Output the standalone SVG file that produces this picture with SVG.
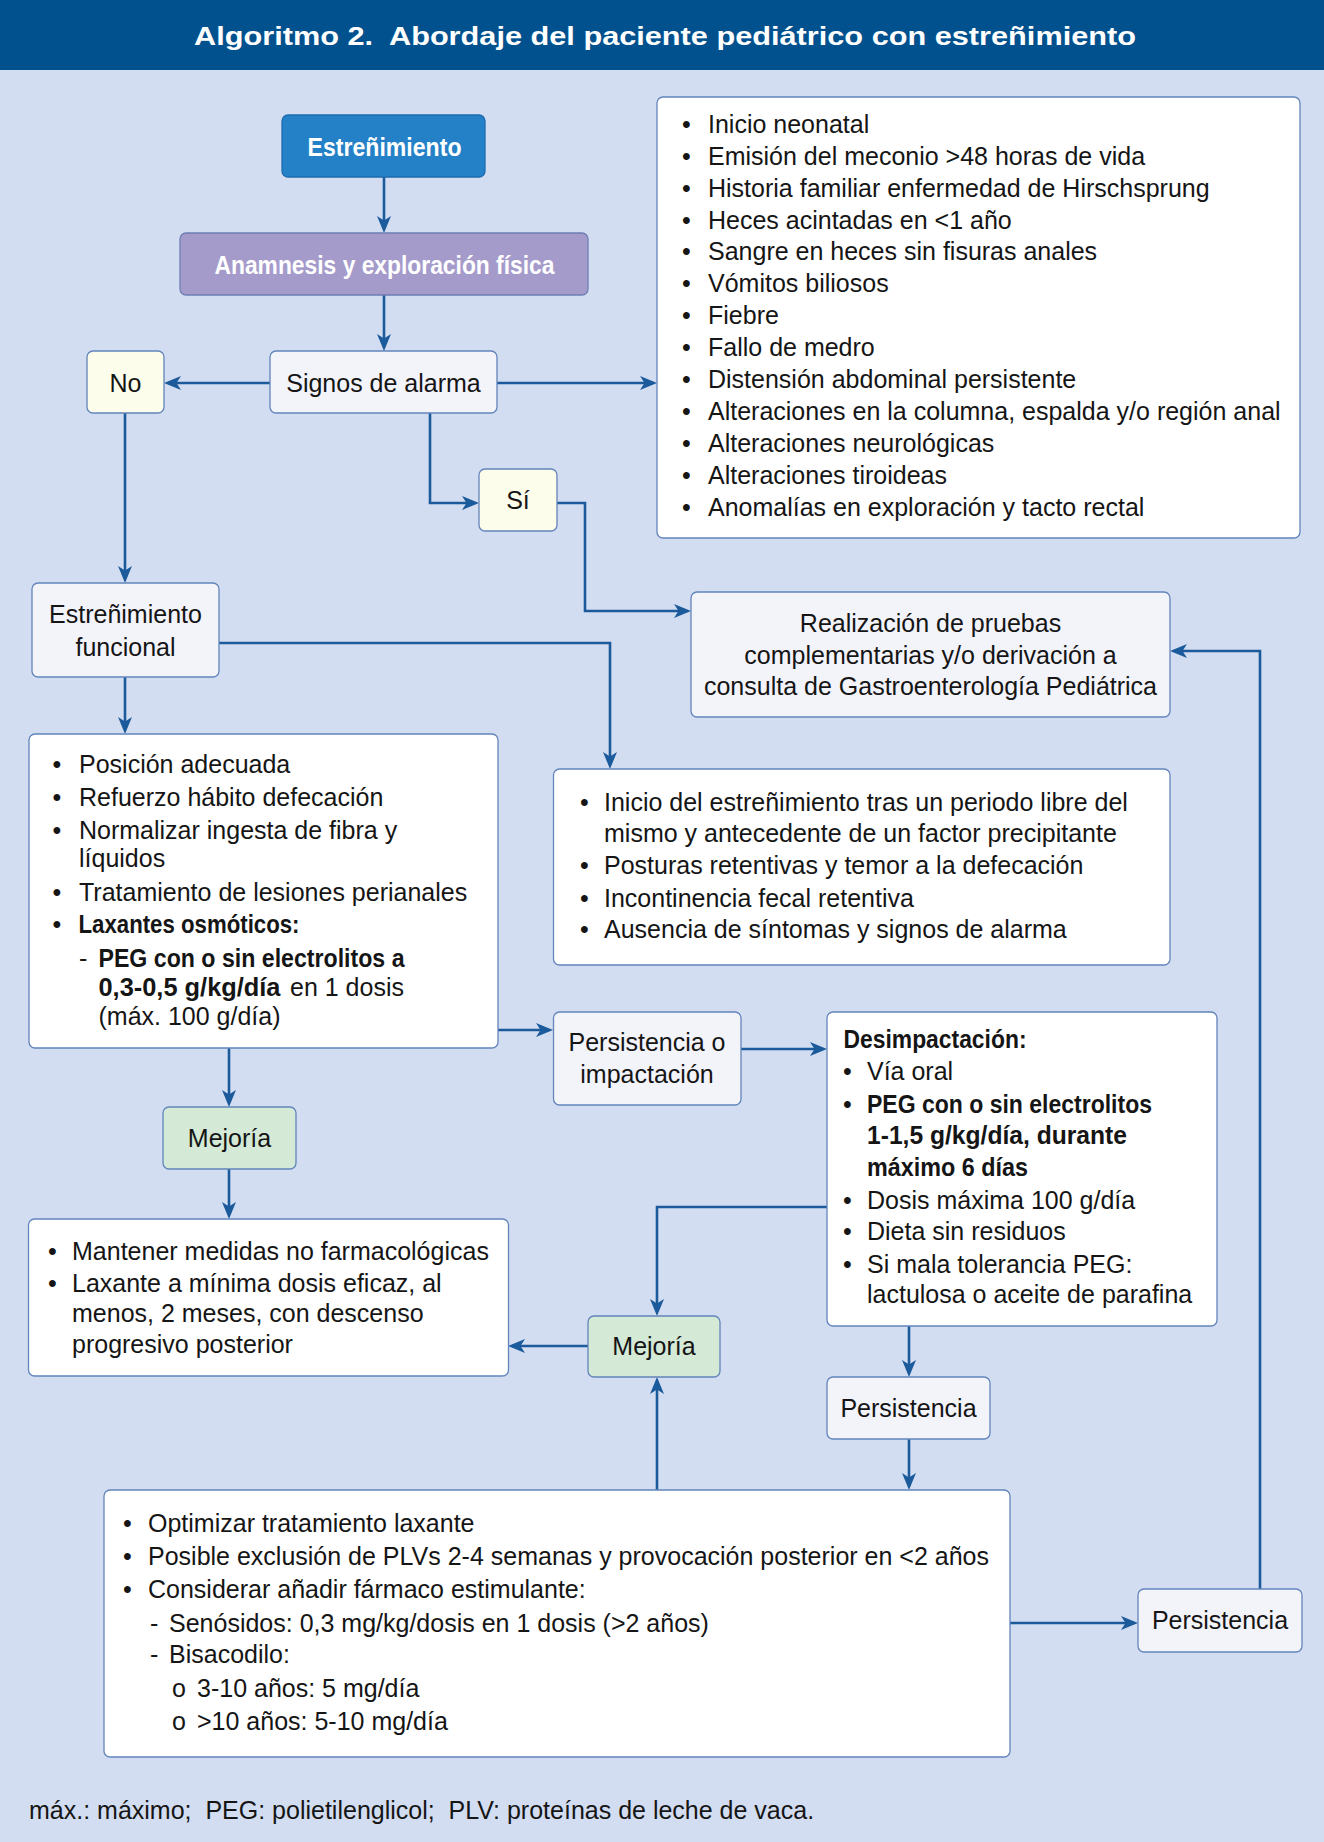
<svg xmlns="http://www.w3.org/2000/svg" width="1324" height="1842" viewBox="0 0 1324 1842">
<style>
.t{font-family:"Liberation Sans",Arial,sans-serif;font-size:25px;fill:#151515}
.b{font-weight:bold}
.c{text-anchor:middle}
.wt{fill:#ffffff}
.box{stroke:#6285BB;stroke-width:1.3}
.w{fill:#ffffff}
.l{fill:#F3F3FA}
.y{fill:#FDFDEB}
.g{fill:#D4EAD6}
.conn{fill:none;stroke:#1B5A9B;stroke-width:2.6}
</style>
<defs>
<marker id="ah" markerUnits="userSpaceOnUse" markerWidth="18" markerHeight="16" refX="13" refY="7" orient="auto">
<path d="M0,0 L17,7 L0,14 L4.5,7 z" fill="#1B5A9B"/>
</marker>
</defs>
<rect x="0" y="0" width="1324" height="1842" fill="#D3DDF1"/>
<g id="header">
<rect x="0" y="0" width="1324" height="70" fill="#01518E"/>
<text class="t b c wt" x="665" y="45" font-size="32" textLength="942" lengthAdjust="spacingAndGlyphs">Algoritmo 2.&#160; Abordaje del paciente pediátrico con estreñimiento</text>
</g>
<g id="connectors" class="conn" marker-end="url(#ah)">
<path d="M384,177 V229"/>
<path d="M384,295 V347"/>
<path d="M270,383 H168"/>
<path d="M497,383 H653"/>
<path d="M430,413 V503 H475"/>
<path d="M557,503 H585 V611 H687"/>
<path d="M125,413 V579"/>
<path d="M125,677 V730"/>
<path d="M219,643 H610 V765"/>
<path d="M498,1030 H549"/>
<path d="M741,1049 H823"/>
<path d="M229,1048 V1103"/>
<path d="M229,1169 V1215"/>
<path d="M827,1207 H657 V1312"/>
<path d="M588,1346 H512"/>
<path d="M909,1326 V1373"/>
<path d="M909,1439 V1486"/>
<path d="M657,1490 V1381"/>
<path d="M1010,1623 H1134"/>
<path d="M1260,1589 V651 H1174"/>
</g>
<g id="n-estrenimiento">
<rect x="282" y="115" width="203" height="62" rx="6" fill="#2481C7" stroke="#1C6BAE" stroke-width="1.3"/>
<text class="t b c wt" x="384.5" y="156" font-size="24" textLength="154" lengthAdjust="spacingAndGlyphs">Estreñimiento</text>
</g>
<g id="n-anamnesis">
<rect x="180" y="233" width="408" height="62" rx="6" fill="#A59BCB" stroke="#6E7FB5" stroke-width="1.3"/>
<text class="t b c wt" x="384.5" y="274" font-size="24" textLength="340" lengthAdjust="spacingAndGlyphs">Anamnesis y exploración física</text>
</g>
<g id="n-signos">
<rect class="box l" x="270" y="351" width="227" height="62" rx="6"/>
<text class="t c" x="383.5" y="392">Signos de alarma</text>
</g>
<g id="n-no">
<rect class="box y" x="87" y="351" width="77" height="62" rx="6"/>
<text class="t c" x="125.5" y="392">No</text>
</g>
<g id="n-si">
<rect class="box y" x="479" y="469" width="78" height="62" rx="6"/>
<text class="t c" x="518" y="509">Sí</text>
</g>
<g id="n-alarma-lista" class="t">
<rect class="box w" x="657" y="97" width="643" height="441" rx="6"/>
<text x="682" y="132.7">•</text><text x="708" y="132.7">Inicio neonatal</text>
<text x="682" y="164.6">•</text><text x="708" y="164.6">Emisión del meconio &gt;48 horas de vida</text>
<text x="682" y="196.6">•</text><text x="708" y="196.6">Historia familiar enfermedad de Hirschsprung</text>
<text x="682" y="228.5">•</text><text x="708" y="228.5">Heces acintadas en &lt;1 año</text>
<text x="682" y="260.4">•</text><text x="708" y="260.4">Sangre en heces sin fisuras anales</text>
<text x="682" y="292.3">•</text><text x="708" y="292.3">Vómitos biliosos</text>
<text x="682" y="324.3">•</text><text x="708" y="324.3">Fiebre</text>
<text x="682" y="356.2">•</text><text x="708" y="356.2">Fallo de medro</text>
<text x="682" y="388.1">•</text><text x="708" y="388.1">Distensión abdominal persistente</text>
<text x="682" y="420.1">•</text><text x="708" y="420.1">Alteraciones en la columna, espalda y/o región anal</text>
<text x="682" y="452">•</text><text x="708" y="452">Alteraciones neurológicas</text>
<text x="682" y="483.9">•</text><text x="708" y="483.9">Alteraciones tiroideas</text>
<text x="682" y="515.9">•</text><text x="708" y="515.9">Anomalías en exploración y tacto rectal</text>
</g>
<g id="n-realizacion" class="t c">
<rect class="box l" x="691" y="592" width="479" height="125" rx="6"/>
<text x="930.5" y="632">Realización de pruebas</text>
<text x="930.5" y="664">complementarias y/o derivación a</text>
<text x="930.5" y="695">consulta de Gastroenterología Pediátrica</text>
</g>
<g id="n-funcional" class="t c">
<rect class="box l" x="32" y="583" width="187" height="94" rx="6"/>
<text x="125.5" y="623">Estreñimiento</text>
<text x="125.5" y="656">funcional</text>
</g>
<g id="n-medidas" class="t">
<rect class="box w" x="29" y="734" width="469" height="314" rx="6"/>
<text x="52.5" y="773">•</text><text x="79" y="773">Posición adecuada</text>
<text x="52.5" y="806">•</text><text x="79" y="806">Refuerzo hábito defecación</text>
<text x="52.5" y="839">•</text><text x="79" y="839">Normalizar ingesta de fibra y</text>
<text x="79" y="867">líquidos</text>
<text x="52.5" y="901">•</text><text x="79" y="901">Tratamiento de lesiones perianales</text>
<text x="52.5" y="933">•</text><text class="b" x="78.5" y="933" textLength="221" lengthAdjust="spacingAndGlyphs">Laxantes osmóticos:</text>
<text x="79" y="967">-</text><text class="b" x="98.5" y="967" textLength="306" lengthAdjust="spacingAndGlyphs">PEG con o sin electrolitos a</text>
<text class="b" x="98.5" y="996" textLength="182" lengthAdjust="spacingAndGlyphs">0,3-0,5 g/kg/día</text><text x="290" y="996">en 1 dosis</text>
<text x="98.5" y="1025">(máx. 100 g/día)</text>
</g>
<g id="n-criterios" class="t">
<rect class="box w" x="553.5" y="769" width="616.5" height="196" rx="6"/>
<text x="580" y="810.7">•</text><text x="604" y="810.7">Inicio del estreñimiento tras un periodo libre del</text>
<text x="604" y="841.7">mismo y antecedente de un factor precipitante</text>
<text x="580" y="874">•</text><text x="604" y="874">Posturas retentivas y temor a la defecación</text>
<text x="580" y="906.7">•</text><text x="604" y="906.7">Incontinencia fecal retentiva</text>
<text x="580" y="938.3">•</text><text x="604" y="938.3">Ausencia de síntomas y signos de alarma</text>
</g>
<g id="n-persistencia-impactacion" class="t c">
<rect class="box l" x="553.5" y="1012" width="187.5" height="93" rx="6"/>
<text x="647" y="1051">Persistencia o</text>
<text x="647" y="1083">impactación</text>
</g>
<g id="n-desimpactacion" class="t">
<rect class="box w" x="827" y="1012" width="390" height="314" rx="6"/>
<text class="b" x="843.5" y="1048" textLength="183" lengthAdjust="spacingAndGlyphs">Desimpactación:</text>
<text x="843" y="1080">•</text><text x="867" y="1080">Vía oral</text>
<text x="843" y="1113">•</text><text class="b" x="867" y="1113" textLength="285" lengthAdjust="spacingAndGlyphs">PEG con o sin electrolitos</text>
<text class="b" x="867" y="1144" textLength="260" lengthAdjust="spacingAndGlyphs">1-1,5 g/kg/día, durante</text>
<text class="b" x="867" y="1176" textLength="161" lengthAdjust="spacingAndGlyphs">máximo 6 días</text>
<text x="843" y="1209">•</text><text x="867" y="1209">Dosis máxima 100 g/día</text>
<text x="843" y="1240">•</text><text x="867" y="1240">Dieta sin residuos</text>
<text x="843" y="1273">•</text><text x="867" y="1273">Si mala tolerancia PEG:</text>
<text x="867" y="1303">lactulosa o aceite de parafina</text>
</g>
<g id="n-mejoria-1">
<rect class="box g" x="163" y="1107" width="133" height="62" rx="6"/>
<text class="t c" x="229.5" y="1147">Mejoría</text>
</g>
<g id="n-mantener" class="t">
<rect class="box w" x="28.5" y="1219" width="480" height="157" rx="6"/>
<text x="48" y="1260">•</text><text x="72" y="1260">Mantener medidas no farmacológicas</text>
<text x="48" y="1292">•</text><text x="72" y="1292">Laxante a mínima dosis eficaz, al</text>
<text x="72" y="1322">menos, 2 meses, con descenso</text>
<text x="72" y="1353">progresivo posterior</text>
</g>
<g id="n-mejoria-2">
<rect class="box g" x="588" y="1316" width="132" height="61" rx="6"/>
<text class="t c" x="654" y="1355">Mejoría</text>
</g>
<g id="n-persistencia">
<rect class="box l" x="827" y="1377" width="163" height="62" rx="6"/>
<text class="t c" x="908.5" y="1417">Persistencia</text>
</g>
<g id="n-optimizar" class="t">
<rect class="box w" x="104" y="1490" width="906" height="267" rx="6"/>
<text x="123" y="1532">•</text><text x="148" y="1532">Optimizar tratamiento laxante</text>
<text x="123" y="1565">•</text><text x="148" y="1565">Posible exclusión de PLVs 2-4 semanas y provocación posterior en &lt;2 años</text>
<text x="123" y="1598">•</text><text x="148" y="1598">Considerar añadir fármaco estimulante:</text>
<text x="150" y="1632">-</text><text x="169" y="1632">Senósidos: 0,3 mg/kg/dosis en 1 dosis (&gt;2 años)</text>
<text x="150" y="1663">-</text><text x="169" y="1663">Bisacodilo:</text>
<text x="172" y="1697">o</text><text x="197" y="1697">3-10 años: 5 mg/día</text>
<text x="172" y="1730">o</text><text x="197" y="1730">&gt;10 años: 5-10 mg/día</text>
</g>
<g id="n-persistencia-2">
<rect class="box l" x="1138" y="1589" width="164" height="63" rx="6"/>
<text class="t c" x="1220" y="1629">Persistencia</text>
</g>
<g id="footnote">
<text class="t" x="29" y="1819">máx.: máximo;&#160; PEG: polietilenglicol;&#160; PLV: proteínas de leche de vaca.</text>
</g>
</svg>
